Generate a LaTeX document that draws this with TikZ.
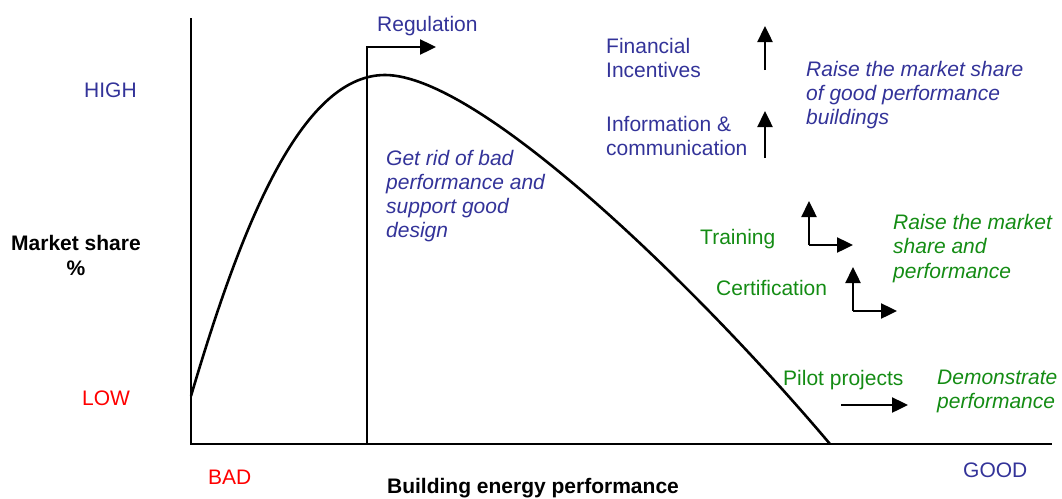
\documentclass[tikz,border=0pt]{standalone}
\usepackage{fontspec}
\setmainfont{Liberation Sans}
\usetikzlibrary{arrows.meta}
\definecolor{navy}{RGB}{51,51,153}
\definecolor{leaf}{RGB}{20,140,20}
\definecolor{alert}{RGB}{255,0,0}
\begin{document}
\begin{tikzpicture}[x=1pt,y=-1pt,
  every node/.style={inner sep=0pt,font=\fontsize{21}{24}\selectfont},
  lbl/.style={anchor=base west},
  blk/.style={anchor=north west,align=left},
  axisline/.style={line width=2.6pt},
  curveline/.style={line width=2.6pt},
  pusharrow/.style={line width=2.4pt,-{Triangle[length=16pt,width=15pt]}}]
\useasboundingbox (0,0) rectangle (1062,498);

% axes
\coordinate (ytop) at (191,18);
\coordinate (origin) at (191,444);
\coordinate (xend) at (1052,444);
\draw[axisline] (ytop) -- (origin) -- (xend);

% market curve
\coordinate (cstart) at (191,396);
\coordinate (cpeak) at (385,75);
\coordinate (cend) at (830,444);
\draw[curveline] (cstart) .. controls (240,230) and (300,75) .. (cpeak)
                      .. controls (480,75) and (700,290) .. (cend);

% regulation step
\coordinate (regfoot) at (367,444);
\coordinate (regknee) at (367,47);
\coordinate (regtip) at (436,47);
\draw[pusharrow] (regfoot) -- (regknee) -- (regtip);
\node[lbl,text=navy] (reg) at (377,31) {Regulation};

% axis labels
\node[lbl,text=navy] (high) at (84,97) {HIGH};
\node[lbl,text=alert] (low) at (82,405) {LOW};
\node[lbl,text=alert] (bad) at (208,484) {BAD};
\node[lbl,text=navy] (good) at (963,477) {GOOD};
\node[anchor=base,font=\fontsize{21}{25}\selectfont\bfseries] (xtitle) at (533,493) {Building energy performance};
\node[anchor=base,font=\fontsize{21}{25}\selectfont\bfseries,align=center] (ytitle) at (76,275) {Market share\\\%};

% upward instruments
\node[blk,text=navy] (fin) at (606,38) {Financial\\Incentives};
\node[blk,text=navy] (info) at (606,116) {Information \&\\communication};
\coordinate (finbase) at (765,70);
\coordinate (fintip) at (765,26);
\coordinate (infobase) at (765,158);
\coordinate (infotip) at (765,111);
\draw[pusharrow] (finbase) -- (fintip);
\draw[pusharrow] (infobase) -- (infotip);
\node[blk,text=navy,font=\fontsize{21}{24}\selectfont\itshape] (raisegood) at (806,61) {Raise the market share\\of good performance\\buildings};

% regulation effect
\node[blk,text=navy,font=\fontsize{21}{24}\selectfont\itshape] (getrid) at (386,150) {Get rid of bad\\performance and\\support good\\design};

% training and certification
\node[lbl,text=leaf] (train) at (700,244) {Training};
\node[lbl,text=leaf] (cert) at (716,295) {Certification};
\coordinate (trknee) at (809,245);
\coordinate (trup) at (809,201);
\coordinate (trright) at (853,245);
\draw[pusharrow] (trknee) -- (trup);
\draw[pusharrow] (trknee) -- (trright);
\coordinate (ceknee) at (853,311);
\coordinate (ceup) at (853,267);
\coordinate (ceright) at (897,311);
\draw[pusharrow] (ceknee) -- (ceup);
\draw[pusharrow] (ceknee) -- (ceright);
\node[blk,text=leaf,font=\fontsize{21}{24.5}\selectfont\itshape] (raiseboth) at (893,214) {Raise the market\\share and\\performance};

% pilot projects
\node[lbl,text=leaf] (pilot) at (783,385) {Pilot projects};
\coordinate (pilotfrom) at (841,405);
\coordinate (pilotto) at (908,405);
\draw[pusharrow] (pilotfrom) -- (pilotto);
\node[blk,text=leaf,font=\fontsize{21}{24}\selectfont\itshape] (demo) at (937,370) {Demonstrate\\performance};
\end{tikzpicture}
\end{document}
